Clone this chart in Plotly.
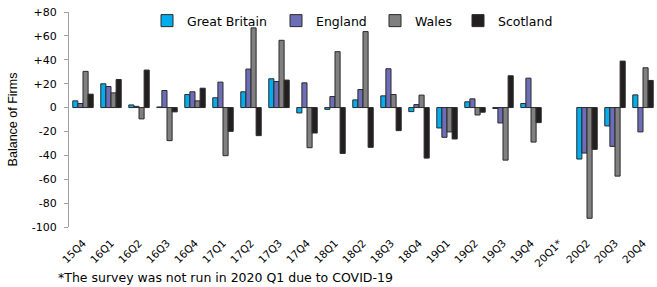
import plotly.graph_objects as go

quarters = ["15Q4", "16Q1", "16Q2", "16Q3", "16Q4", "17Q1", "17Q2", "17Q3", "17Q4",
            "18Q1", "18Q2", "18Q3", "18Q4", "19Q1", "19Q2", "19Q3", "19Q4",
            "20Q1*", "20Q2", "20Q3", "20Q4"]

great_britain = [5.6, 19.9, 2.2, 0.5, 10.9, 8.2, 13.2, 24.1, -4.5,
                 -1.5, 6.4, 9.8, -3.4, -17.1, 4.8, -0.8, 3.4,
                 None, -43.1, -15.4, 10.6]
england = [3.4, 17.6, 1.0, 14.3, 13.2, 21.3, 32.2, 21.8, 20.7,
           9.2, 15.1, 32.5, 2.5, -24.9, 7.3, -12.9, 24.6,
           None, -38.1, -32.5, -20.4]
wales = [30.3, 12.3, -9.5, -27.7, 5.6, -40.3, 66.7, 56.3, -33.6,
         46.8, 63.6, 10.9, 10.4, -20.4, -6.2, -44.0, -28.9,
         None, -92.7, -57.4, 33.3]
scotland = [11.2, 23.5, 31.4, -3.6, 16.2, -19.9, -23.5, 23.0, -21.3,
            -38.4, -33.3, -19.3, -42.3, -26.3, -3.9, 26.6, -12.6,
            None, -35.0, 38.9, 22.7]

y_ticks = [80, 60, 40, 20, 0, -20, -40, -60, -80, -100]
y_tick_text = ["+80", "+60", "+40", "+20", "0", "-20", "-40", "-60", "-80", "-100"]

footnote = "*The survey was not run in 2020 Q1 due to COVID-19"

series = [
    ("Great Britain", great_britain, "#00AEEF", "legend"),
    ("England", england, "#6E6EB8", "legend2"),
    ("Wales", wales, "#808080", "legend3"),
    ("Scotland", scotland, "#231F20", "legend4"),
]

FONT = "DejaVu Sans"

fig = go.Figure()
for name, vals, color, leg in series:
    fig.add_trace(go.Bar(
        x=quarters, y=vals, name=name, legend=leg, showlegend=True,
        marker=dict(color=color, line=dict(color="#2a2a2a", width=1)),
    ))

n = len(quarters)
boundaries = [i - 0.5 for i in range(n + 1)]

W, H = 657, 287
ml, mr, mt, mb = 69, 0, 12, 60
pw = W - ml - mr
ph = H - mt - mb


def lx(px):
    return (px - ml) / pw


def ly(py):
    return 1 - (py - mt) / ph


legend_common = dict(orientation="h", xanchor="left", yanchor="middle",
                     font=dict(family=FONT, size=12.5, color="#000"),
                     bgcolor="rgba(0,0,0,0)", itemwidth=30, borderwidth=0)

fig.update_layout(
    width=W, height=H,
    margin=dict(l=ml, r=mr, t=mt, b=mb),
    paper_bgcolor="white", plot_bgcolor="white",
    showlegend=True,
    barmode="group", bargap=0.27, bargroupgap=0,
    font=dict(family=FONT, size=10, color="#000"),
    legend=dict(x=lx(147), y=ly(21), **legend_common),
    legend2=dict(x=lx(276), y=ly(21), **legend_common),
    legend3=dict(x=lx(375), y=ly(21), **legend_common),
    legend4=dict(x=lx(458), y=ly(21), **legend_common),
    xaxis=dict(
        type="category", range=[-0.5, n - 0.5],
        showline=False, showgrid=False, zeroline=False, ticks="",
        ticklabelstandoff=7,
        tickangle=-45, tickfont=dict(family=FONT, size=10.5, color="#000"),
    ),
    xaxis2=dict(
        overlaying="x", anchor="free", position=100 / 180,
        type="linear", range=[-0.5, n - 0.5],
        tickmode="array", tickvals=boundaries,
        ticks="outside", ticklen=3, tickcolor="#a0a0a0", tickwidth=1,
        showline=True, linecolor="#a0a0a0", linewidth=1,
        showticklabels=False, showgrid=False, zeroline=False,
    ),
    yaxis=dict(
        range=[-100, 80], tickmode="array", tickvals=y_ticks, ticktext=y_tick_text,
        showline=True, linecolor="#a0a0a0", linewidth=1,
        ticks="outside", ticklen=4, tickcolor="#a0a0a0",
        ticklabelstandoff=5,
        showgrid=False, zeroline=False,
        tickfont=dict(family=FONT, size=11, color="#000"),
        title=dict(text="Balance of Firms", standoff=11,
                   font=dict(family="Liberation Sans Narrow, Liberation Sans, Arial Narrow", size=12.5, color="#000")),
    ),
    annotations=[dict(
        text=footnote, xref="paper", yref="paper",
        x=lx(56), y=ly(277), xanchor="left", yanchor="middle",
        showarrow=False, font=dict(family=FONT, size=12.5, color="#000"),
    )],
)

fig.write_html("out.html", post_script="document.body.style.margin='0';",
               config={"displayModeBar": False})
